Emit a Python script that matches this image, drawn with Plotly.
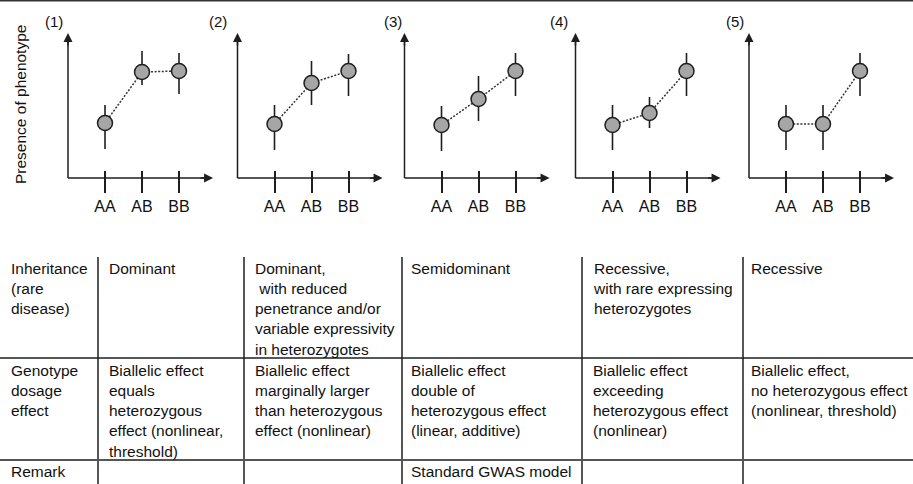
import plotly.graph_objects as go

W, H = 913, 484
FONT = "Liberation Sans, Arial, Helvetica, sans-serif"

# --- data -------------------------------------------------------------
genotypes = ["AA", "AB", "BB"]
panel_labels = ["(1)", "(2)", "(3)", "(4)", "(5)"]

# phenotype level per genotype (arbitrary units) for each inheritance model
dominant = [5.5, 10.6, 10.7]
dominant_reduced = [5.4, 9.5, 10.7]
semidominant = [5.3, 7.9, 10.7]
recessive_rare_het = [5.3, 6.5, 10.7]
recessive = [5.4, 5.4, 10.7]

# upper / lower spread of each genotype group
dominant_up, dominant_down = [1.8, 2.1, 1.8], [2.6, 1.3, 2.3]
dominant_reduced_up, dominant_reduced_down = [1.9, 2.2, 1.7], [2.6, 2.2, 2.5]
semidominant_up, semidominant_down = [1.9, 2.3, 1.8], [2.6, 2.2, 2.5]
recessive_rare_het_up, recessive_rare_het_down = [2.0, 1.6, 1.8], [2.5, 1.5, 2.5]
recessive_up, recessive_down = [1.9, 1.9, 1.8], [2.6, 2.6, 2.5]

panel_values = [dominant, dominant_reduced, semidominant, recessive_rare_het, recessive]
panel_up = [dominant_up, dominant_reduced_up, semidominant_up, recessive_rare_het_up, recessive_up]
panel_down = [dominant_down, dominant_reduced_down, semidominant_down,
              recessive_rare_het_down, recessive_down]

y_title = "Presence of phenotype"

row_inheritance = [
    "Inheritance<br>(rare<br>disease)",
    "Dominant",
    "Dominant,<br> with reduced<br>penetrance and/or<br>variable expressivity<br>in heterozygotes",
    "Semidominant",
    "Recessive,<br>with rare expressing<br>heterozygotes",
    "Recessive",
]
row_dosage = [
    "Genotype<br>dosage<br>effect",
    "Biallelic effect<br>equals<br>heterozygous<br>effect (nonlinear,<br>threshold)",
    "Biallelic effect<br>marginally larger<br>than heterozygous<br>effect (nonlinear)",
    "Biallelic effect<br>double of<br>heterozygous effect<br>(linear, additive)",
    "Biallelic effect<br>exceeding<br>heterozygous effect<br>(nonlinear)",
    "Biallelic effect,<br>no heterozygous effect<br>(nonlinear, threshold)",
]
row_remark = ["Remark", "", "", "Standard GWAS model", "", ""]
table_rows = [row_inheritance, row_dosage, row_remark]

# --- layout geometry (pixels) ----------------------------------------
axis_left_px = [68, 237.5, 404.5, 575.5, 749]   # where the y-axis of each panel sits
label_x_px = [54, 218, 393, 559, 735]           # panel numbers
unit_px = 37                                     # px per genotype step
x_range = [-1.1, 2.95]
y_range = [-1.5, 14.5]
y_top_px, y_bot_px = 33, 193
x_tip, y_tip = 2.92, 14.5

col_text_px = [9, 107, 253, 409, 591, 749]
col_line_px = [98, 244, 402, 582, 743]
row_text_top_px = [258, 360, 461]
table_top_px = 257
row_line1_px, row_line2_px = 358, 460


def px_x(p):
    return p / W


def px_y(p):
    return 1 - p / H


fig = go.Figure()
shapes, annotations = [], []
ink = "#1e1e1e"

for i in range(5):
    sfx = "" if i == 0 else str(i + 1)
    xa, ya = "x" + sfx, "y" + sfx
    left = axis_left_px[i] + (x_range[0] + 1) * unit_px
    right = axis_left_px[i] + (x_range[1] + 1) * unit_px

    fig.add_trace(go.Scatter(
        x=genotypes, y=panel_values[i],
        mode="lines+markers",
        line=dict(color="#333333", width=1.5, dash="2px,1.6px"),
        marker=dict(size=15, color="#a6a6a6", line=dict(color=ink, width=1.5)),
        error_y=dict(type="data", symmetric=False, array=panel_up[i],
                     arrayminus=panel_down[i], thickness=1.6, width=0, color=ink),
        xaxis=xa, yaxis=ya, showlegend=False, hoverinfo="skip", cliponaxis=False,
    ))

    fig.layout["xaxis" + sfx] = dict(
        domain=[px_x(left), px_x(right)], range=x_range, anchor=ya,
        type="category", categoryorder="array", categoryarray=genotypes,
        ticks="inside", ticklen=22, tickwidth=1.5, tickcolor=ink,
        showline=False, showgrid=False, zeroline=False,
        tickfont=dict(family=FONT, size=16, color="#111111"),
        ticklabelstandoff=2,
    )
    fig.layout["yaxis" + sfx] = dict(
        domain=[px_y(y_bot_px), px_y(y_top_px)], range=y_range, anchor=xa,
        showticklabels=False, ticks="", showgrid=False, zeroline=False, showline=False,
    )

    # axis lines with arrowheads
    shapes.append(dict(type="line", xref=xa, yref=ya, x0=-1, y0=0, x1=x_tip - 0.1, y1=0,
                       line=dict(color=ink, width=1.5)))
    shapes.append(dict(type="line", xref=xa, yref=ya, x0=-1, y0=0, x1=-1, y1=y_tip - 0.4,
                       line=dict(color=ink, width=1.5)))
    annotations.append(dict(x=x_tip, y=0, xref=xa, yref=ya, ax=-14, ay=0, text="",
                            showarrow=True, arrowhead=2, arrowsize=1.2, arrowwidth=1.5,
                            arrowcolor=ink))
    annotations.append(dict(x=-1, y=y_tip, xref=xa, yref=ya, ax=0, ay=14, text="",
                            showarrow=True, arrowhead=2, arrowsize=1.2, arrowwidth=1.5,
                            arrowcolor=ink))

    annotations.append(dict(x=px_x(label_x_px[i]), y=px_y(21), xref="paper", yref="paper",
                            text=panel_labels[i], showarrow=False,
                            xanchor="center", yanchor="middle",
                            font=dict(family=FONT, size=15, color="#111111")))

annotations.append(dict(x=px_x(20), y=px_y(105), xref="paper", yref="paper", text=y_title,
                        textangle=-90, showarrow=False, xanchor="center", yanchor="middle",
                        font=dict(family=FONT, size=15.5, color="#111111")))

# --- table ------------------------------------------------------------
shapes.append(dict(type="line", xref="paper", yref="paper", x0=0, x1=1,
                   y0=px_y(0.5), y1=px_y(0.5), line=dict(color="#333333", width=2)))
for xl in col_line_px:
    shapes.append(dict(type="line", xref="paper", yref="paper", x0=px_x(xl), x1=px_x(xl),
                       y0=px_y(table_top_px), y1=0, line=dict(color=ink, width=1.5)))
shapes.append(dict(type="line", xref="paper", yref="paper", x0=0, x1=1,
                   y0=px_y(row_line1_px), y1=px_y(row_line1_px),
                   line=dict(color=ink, width=1.5)))
shapes.append(dict(type="line", xref="paper", yref="paper", x0=0, x1=1,
                   y0=px_y(row_line2_px), y1=px_y(row_line2_px),
                   line=dict(color="#555555", width=2.2)))

for r, row in enumerate(table_rows):
    for c, txt in enumerate(row):
        if not txt:
            continue
        annotations.append(dict(x=px_x(col_text_px[c]), y=px_y(row_text_top_px[r]),
                                xref="paper", yref="paper", text=txt, showarrow=False,
                                xanchor="left", yanchor="top", align="left",
                                font=dict(family=FONT, size=15.5, color="#111111")))

fig.update_layout(
    width=W, height=H, margin=dict(l=0, r=0, t=0, b=0),
    paper_bgcolor="white", plot_bgcolor="white",
    shapes=shapes, annotations=annotations,
    font=dict(family=FONT, color="#111111"),
)

fig.write_html("out.html")
